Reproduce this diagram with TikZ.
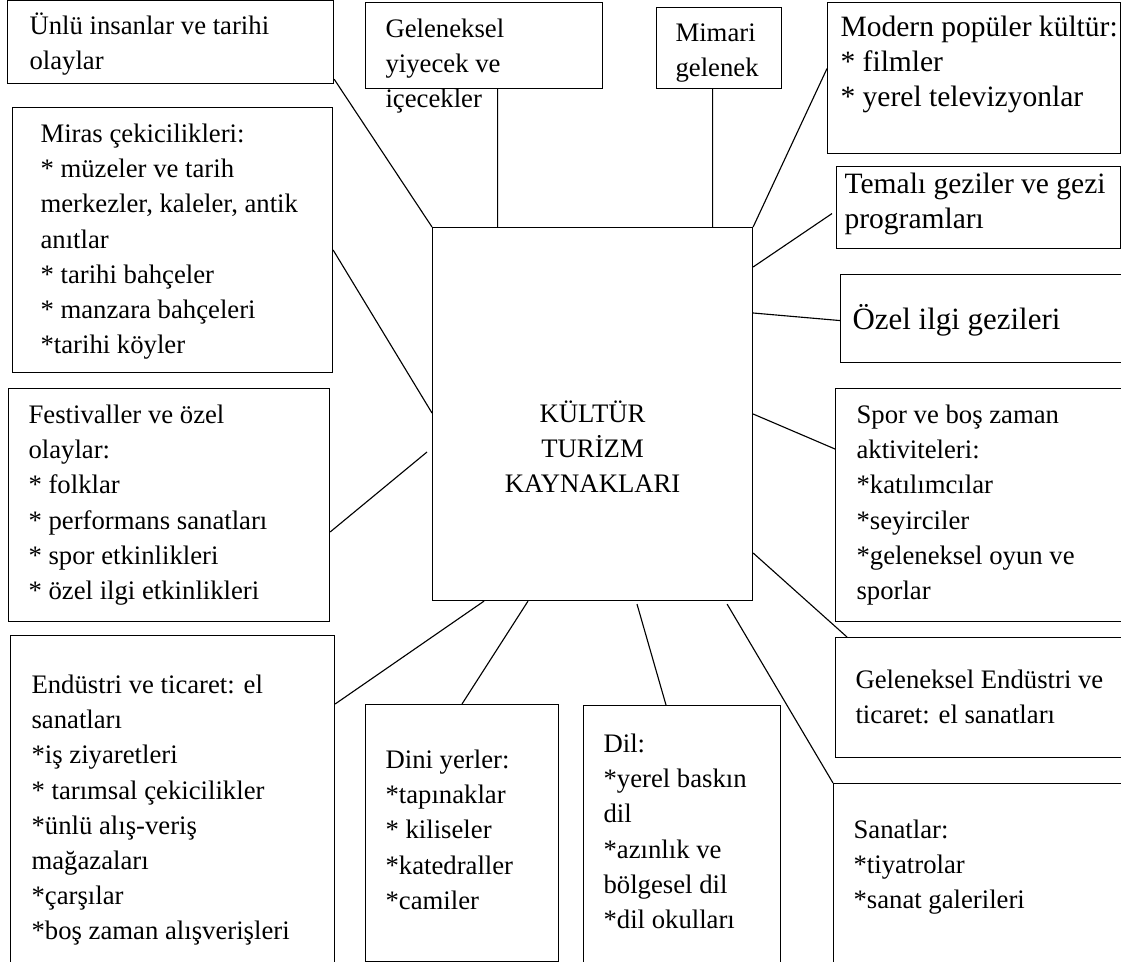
\documentclass[tikz,border=0pt]{standalone}
\usepackage{fontspec}
\setmainfont{Liberation Serif}
\begin{document}
\begin{tikzpicture}[line width=0.8pt,
    box/.style={draw, rectangle, inner sep=0pt, anchor=north west},
    txt/.style={inner sep=0pt, anchor=north west, align=left, font=\fontsize{19}{25}\selectfont},
    bigtxt/.style={txt, font=\fontsize{21}{25}\selectfont}]
    \useasboundingbox (0,0) rectangle (28.025,-24.05);

    % Centre box
    \node[box, minimum width=8cm, minimum height=9.325cm] (centre) at (10.8,-5.675) {};
    \node[txt, anchor=north, align=center] (centre-t) at ([yshift=-4.26cm]centre.north) {\strut KÜLTÜR\\TURİZM\\KAYNAKLARI};

    % Top row
    \node[box, minimum width=8.15cm, minimum height=2.075cm] (ununlu) at (0.175,0) {};
    \node[txt] (ununlu-t) at ([shift={(0.55,-0.235)}]ununlu.north west) {\strut Ünlü insanlar ve tarihi\\olaylar};

    \node[box, minimum width=5.925cm, minimum height=2.15cm] (yiyecek) at (9.125,-0.05) {};
    \node[txt] (yiyecek-t) at ([shift={(0.5,-0.26)}]yiyecek.north west) {\strut Geleneksel\\yiyecek ve\\içecekler};

    \node[box, minimum width=3.125cm, minimum height=2.025cm] (mimari) at (16.4,-0.175) {};
    \node[txt] (mimari-t) at ([shift={(0.475,-0.235)}]mimari.north west) {\strut Mimari\\gelenek};

    \node[box, minimum width=7.325cm, minimum height=3.775cm] (modern) at (20.675,-0.05) {};
    \node[bigtxt] (modern-t) at ([shift={(0.325,-0.235)}]modern.north west) {\strut Modern popüler kültür:\\* filmler\\* yerel televizyonlar};

    % Left column
    \node[box, minimum width=8cm, minimum height=6.625cm] (miras) at (0.3,-2.675) {};
    \node[txt] (miras-t) at ([shift={(0.7,-0.26)}]miras.north west) {\strut Miras çekicilikleri:\\* müzeler ve tarih\\merkezler, kaleler, antik\\anıtlar\\* tarihi bahçeler\\* manzara bahçeleri\\*tarihi köyler};

    \node[box, minimum width=8.025cm, minimum height=5.825cm] (festival) at (0.2,-9.7) {};
    \node[txt] (festival-t) at ([shift={(0.5,-0.26)}]festival.north west) {\strut Festivaller ve özel\\olaylar:\\* folklar\\* performans sanatları\\* spor etkinlikleri\\* özel ilgi etkinlikleri};

    \node[box, minimum width=8.1cm, minimum height=8.25cm] (endustri) at (0.25,-15.875) {};
    \node[txt] (endustri-t) at ([shift={(0.525,-0.835)}]endustri.north west) {\strut Endüstri ve ticaret: el\\sanatları\\*iş ziyaretleri\\* tarımsal çekicilikler\\*ünlü alış-veriş\\mağazaları\\*çarşılar\\*boş zaman alışverişleri};

    % Bottom row
    \node[box, minimum width=4.825cm, minimum height=6.425cm] (dini) at (9.125,-17.6) {};
    \node[txt] (dini-t) at ([shift={(0.5,-0.985)}]dini.north west) {\strut Dini yerler:\\*tapınaklar\\* kiliseler\\*katedraller\\*camiler};

    \node[box, minimum width=4.925cm, minimum height=6.425cm] (dil) at (14.575,-17.625) {};
    \node[txt] (dil-t) at ([shift={(0.5,-0.56)}]dil.north west) {\strut Dil:\\*yerel baskın\\dil\\*azınlık ve\\bölgesel dil\\*dil okulları};

    % Right column
    \node[box, minimum width=7.1cm, minimum height=2.05cm] (temali) at (20.9,-4.15) {};
    \node[bigtxt] (temali-t) at ([shift={(0.2,-0.06)}]temali.north west) {\strut Temalı geziler ve gezi\\programları};

    \node[box, minimum width=7.1cm, minimum height=2.2cm] (ozel) at (21,-6.85) {};
    \node[bigtxt, font=\fontsize{22}{25}\selectfont] (ozel-t) at ([shift={(0.3,-0.735)}]ozel.north west) {\strut Özel ilgi gezileri};

    \node[box, minimum width=7.2cm, minimum height=5.825cm] (spor) at (20.875,-9.7) {};
    \node[txt] (spor-t) at ([shift={(0.525,-0.26)}]spor.north west) {\strut Spor ve boş zaman\\aktiviteleri:\\*katılımcılar\\*seyirciler\\*geleneksel oyun ve\\sporlar};

    \node[box, minimum width=7.2cm, minimum height=3cm] (ge) at (20.875,-15.925) {};
    \node[txt] (ge-t) at ([shift={(0.5,-0.66)}]ge.north west) {\strut Geleneksel Endüstri ve\\ticaret: el sanatları};

    \node[box, minimum width=7.25cm, minimum height=4.6cm] (sanatlar) at (20.825,-19.575) {};
    \node[txt] (sanatlar-t) at ([shift={(0.5,-0.76)}]sanatlar.north west) {\strut Sanatlar:\\*tiyatrolar\\*sanat galerileri};

    % Connectors
    \draw ([yshift=0.125cm]ununlu.south east) -- (centre.north west);
    \draw ([xshift=0.34cm]yiyecek.south) -- ([xshift=-2.375cm]centre.north);
    \draw ([xshift=-0.1625cm]mimari.south) -- ([xshift=3cm]centre.north);
    \draw (centre.north east) -- ([yshift=0.2375cm]modern.west);
    \draw ([yshift=-1cm]centre.north east) -- ([shift={(-0.1,-0.15)}]temali.west);
    \draw ([yshift=-2.15cm]centre.north east) -- ([yshift=-0.05cm]ozel.west);
    \draw ([yshift=-4.675cm]centre.north east) -- ([yshift=-1.525cm]spor.north west);
    \draw ([yshift=-8.15cm]centre.north east) -- ([xshift=0.3cm]ge.north west);
    \draw ([shift={(-0.65,-0.075)}]centre.south east) -- (sanatlar.north west);
    \draw ([shift={(5.125,-0.075)}]centre.south west) -- ([xshift=2.075cm]dil.north west);
    \draw ([xshift=2.4cm]centre.south west) -- ([xshift=2.425cm]dini.north west);
    \draw ([xshift=1.3cm]centre.south west) -- ([yshift=-1.725cm]endustri.north east);
    \draw ([yshift=-3.6cm]festival.north east) -- ([shift={(-0.125,-5.625)}]centre.north west);
    \draw ([yshift=-3.575cm]miras.north east) -- ([yshift=-4.65cm]centre.north west);
\end{tikzpicture}
\end{document}
